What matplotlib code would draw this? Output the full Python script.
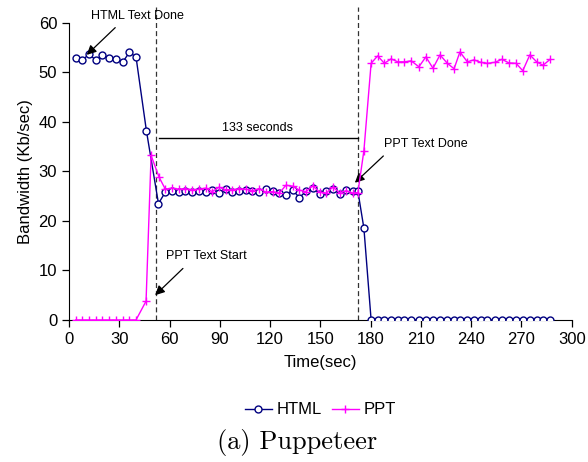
import numpy as np
import matplotlib
matplotlib.use("agg")
import matplotlib.pyplot as plt

plt.rcParams['font.family'] = ['Liberation Sans', 'DejaVu Sans']

# time stamps (sec)
t_start = [4, 8, 12, 16, 20, 24, 28, 32, 36, 40]
t_mid = [57.5, 61.5, 65.5, 69.5, 73.5, 77.5, 81.5, 85.5, 89.5, 93.5, 97.5, 101.5,
         105.5, 109.5, 113.5, 117.5, 121.5, 125.5, 129.5, 133.5, 137.5, 141.5,
         145.5, 149.5, 153.5, 157.5, 161.5, 165.5, 169.5]
t_end = [180.3, 184.2, 188.2, 192.2, 196.2, 200.2, 204.2, 208.8, 213.0, 217.2,
         221.4, 225.8, 229.8, 233.3, 237.7, 241.7, 245.7, 249.7, 254.1, 258.4,
         262.4, 266.8, 270.8, 275.0, 279.1, 282.9, 287.1]

html_t = t_start + [46.2, 53.4] + t_mid + [172.4, 176.0] + t_end
html_bw = ([52.8, 52.4, 53.7, 52.4, 53.4, 52.8, 52.7, 52.0, 54.0, 53.1]
           + [38.2, 23.5]
           + [25.8, 26.0, 25.9, 26.1, 25.8, 26.0, 25.9, 26.3, 25.7, 26.4, 25.9,
              26.0, 26.3, 26.1, 25.8, 26.4, 26.0, 25.6, 25.3, 26.2, 24.7, 26.0,
              26.6, 25.5, 26.0, 26.5, 25.4, 26.3, 26.1]
           + [26.0, 18.5]
           + [0] * 27)

ppt_t = t_start + [46.0, 49.0, 53.8] + t_mid + [172.4, 176.0] + t_end
ppt_bw = ([0] * 10
          + [3.8, 33.2, 28.8]
          + [26.4, 26.6, 26.4, 26.5, 26.3, 26.4, 26.6, 25.9, 26.8, 26.3, 26.3,
             26.5, 26.4, 26.1, 26.5, 25.8, 25.9, 25.6, 27.2, 27.0, 26.2, 25.9,
             27.1, 25.8, 25.6, 26.8, 25.7, 26.1, 25.6]
          + [25.7, 34.2]
          + [51.8, 53.3, 51.8, 52.7, 52.1, 52.1, 52.3, 51.1, 53.1, 50.8, 53.5,
             51.8, 50.7, 54.1, 52.1, 52.5, 52.0, 51.8, 52.0, 52.6, 51.9, 51.8,
             50.3, 53.5, 52.1, 51.4, 52.6])

start_line = 52.0
done_line = 172.2

fig = plt.figure(figsize=(5.88, 4.62), dpi=100)
ax = fig.add_axes([0.1173, 0.3074, 0.855, 0.6435])

ax.plot(html_t, html_bw, color='#000080', lw=1.0, marker='o', ms=5,
        mfc='white', mec='#000080', mew=1.0, label='HTML', zorder=3)
ax.plot(ppt_t, ppt_bw, color='#FF00FF', lw=1.0, marker='+', ms=5.5,
        mew=1.0, label='PPT', zorder=4)

for xv in (start_line, done_line):
    ax.plot([xv, xv], [0, 63.2], color='#333333', lw=0.9, ls=(0, (4, 2.5)),
            clip_on=False, zorder=2)

ax.plot([start_line + 2, done_line], [36.8, 36.8], color='black', lw=1.0)
ax.text(112.5, 38.7, '133 seconds', fontsize=9, ha='center', va='center')

arrow = dict(arrowstyle='-|>', color='black', lw=0.9, mutation_scale=14,
             shrinkA=0, shrinkB=0)
ax.annotate('', xy=(10.6, 53.5), xytext=(27.6, 59.0), arrowprops=arrow,
            annotation_clip=False)
ax.text(13.2, 61.4, 'HTML Text Done', fontsize=9, va='center',
        clip_on=False)
ax.annotate('', xy=(51.4, 5.0), xytext=(68.0, 10.4), arrowprops=arrow)
ax.text(58.0, 12.9, 'PPT Text Start', fontsize=9, va='center')
ax.annotate('', xy=(170.6, 27.7), xytext=(187.6, 33.1), arrowprops=arrow)
ax.text(188.0, 35.5, 'PPT Text Done', fontsize=9, va='center')

ax.set_xlim(0, 300)
ax.set_ylim(0, 60)
ax.set_xticks(np.arange(0, 301, 30))
ax.set_yticks(np.arange(0, 61, 10))
ax.spines['top'].set_visible(False)
ax.spines['right'].set_visible(False)
ax.tick_params(labelsize=12, length=5, width=0.9, direction='out')
ax.set_xlabel('Time(sec)', fontsize=12, labelpad=6)
ax.set_ylabel('Bandwidth (Kb/sec)', fontsize=12, labelpad=4)

fig.legend(loc='center', bbox_to_anchor=(0.545, 1 - 410 / 462), ncol=2,
           frameon=False, fontsize=12, handlelength=1.6, handletextpad=0.3,
           columnspacing=0.6)
fig.text(0.505, 1 - 443 / 462, '(a) Puppeteer', fontname='cmr10', fontsize=19,
         ha='center', va='center')

fig.savefig('out.png', dpi=100)
